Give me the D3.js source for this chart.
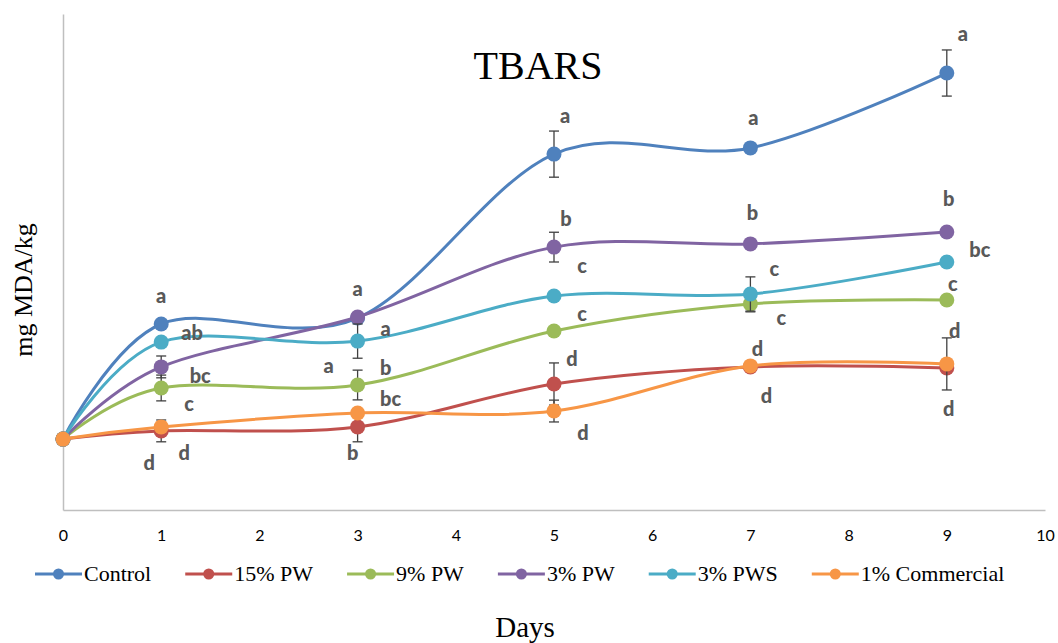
<!DOCTYPE html>
<html><head><meta charset="utf-8">
<script src="https://cdn.jsdelivr.net/npm/d3@7"></script>
<style>body{margin:0;background:#fff}svg{display:block}</style>
</head><body>
<svg id="c" width="1058" height="643"></svg>
<script>
// ---- data ----
const days = [0, 1, 3, 5, 7, 9];
const xTicks = [0,1,2,3,4,5,6,7,8,9,10];
const seriesNames = ["Control", "15% PW", "9% PW", "3% PW", "3% PWS", "1% Commercial"];
const seriesColors = ["#4F81BD", "#C0504D", "#9BBB59", "#8064A2", "#4BACC6", "#F79646"];
const control   = [0.286, 0.750, 0.774, 1.435, 1.460, 1.762];
const pw15      = [0.286, 0.319, 0.335, 0.508, 0.577, 0.573];
const pw9       = [0.286, 0.492, 0.504, 0.722, 0.831, 0.847];
const pw3       = [0.286, 0.577, 0.778, 1.060, 1.073, 1.121];
const pws3      = [0.286, 0.677, 0.681, 0.863, 0.871, 1.000];
const commercial= [0.286, 0.335, 0.391, 0.399, 0.581, 0.589];
const errControl   = [0, 0, 0, 0.093, 0, 0.093];
const errPw15      = [0, 0.044, 0.060, 0.085, 0, 0];
const errPw9       = [0, 0.052, 0.060, 0, 0.032, 0];
const errPw3       = [0, 0.044, 0, 0.060, 0, 0];
const errPws3      = [0, 0, 0.069, 0, 0.069, 0];
const errCommercial= [0, 0, 0, 0.044, 0, 0.105];
const values = [control, pw15, pw9, pw3, pws3, commercial];
const errors = [errControl, errPw15, errPw9, errPw3, errPws3, errCommercial];
// significance letters: [seriesIndex, dayIndex, text]
const letters = [
  [0,1,"a"],[4,1,"ab"],[3,1,"bc"],[2,1,"c"],[1,1,"d"],[5,1,"d"],
  [0,2,"a"],[4,2,"a"],[3,2,"a"],[2,2,"b"],[5,2,"bc"],[1,2,"b"],
  [0,3,"a"],[3,3,"b"],[4,3,"c"],[2,3,"c"],[1,3,"d"],[5,3,"d"],
  [0,4,"a"],[3,4,"b"],[4,4,"c"],[2,4,"c"],[5,4,"d"],[1,4,"d"],
  [0,5,"a"],[3,5,"b"],[4,5,"bc"],[2,5,"c"],[5,5,"d"],[1,5,"d"]
];
// label offsets (px) relative to the point, same order as letters
const letterOffsets = [
  [0,-29],[31,-10],[39,8],[28,15],[-12,31],[23,25],
  [0,-30],[28,-13],[-29,48],[28,-18],[33,-15],[-5,25],
  [11,-39],[12,-29],[28,-31],[28,-18],[18,-26],[29,21],
  [3,-31],[2,-32],[24,-26],[31,13],[7,-18],[16,28],
  [16,-40],[2,-34],[33,-13],[6,-17],[8,-34],[2,40]
];

// ---- layout ----
const svg = d3.select("#c");
const x = d3.scaleLinear().domain([0, 10]).range([63, 1045]);
const y = d3.scaleLinear().domain([0, 2]).range([510, 14]);

// axes
const gx = svg.append("g").attr("transform", "translate(0,510)")
  .call(d3.axisBottom(x).tickValues(xTicks).tickSize(0).tickPadding(20).tickFormat(d3.format("d")));
gx.select(".domain").attr("stroke", "#BFBFBF").attr("stroke-width", 1.5);
gx.selectAll("text").attr("font-family", "Lato, 'Open Sans', sans-serif").attr("font-size", 16).attr("fill", "#000");

const gy = svg.append("g").attr("transform", "translate(63,0)")
  .call(d3.axisLeft(y).tickValues([]).tickSize(0));
gy.select(".domain").attr("stroke", "#BFBFBF").attr("stroke-width", 1.5);

// title & axis titles
svg.append("text").attr("x", 538).attr("y", 79).attr("text-anchor", "middle")
  .attr("font-family", "'Liberation Serif', serif").attr("font-size", 40).text("TBARS");
svg.append("text").attr("x", 525).attr("y", 637).attr("text-anchor", "middle")
  .attr("font-family", "'Liberation Serif', serif").attr("font-size", 29).text("Days");
svg.append("text").attr("transform", "translate(32,290) rotate(-90)").attr("text-anchor", "middle")
  .attr("font-family", "'Liberation Serif', serif").attr("font-size", 26).text("mg MDA/kg");

// lines
const line = d3.line().x((d, i) => x(days[i])).y(d => y(d)).curve(d3.curveCardinal.tension(0));
const plot = svg.append("g");
values.forEach((vals, s) => {
  const g = plot.append("g");
  g.append("path").attr("d", line(vals)).attr("fill", "none")
    .attr("stroke", seriesColors[s]).attr("stroke-width", 3);
  // error bars
  errors[s].forEach((e, i) => {
    if (!e) return;
    const cx = x(days[i]);
    const y1 = y(vals[i] + e), y2 = y(vals[i] - e);
    g.append("line").attr("x1", cx).attr("x2", cx).attr("y1", y1).attr("y2", y2).attr("stroke", "#404040").attr("stroke-width", 1.3);
    [y1, y2].forEach(yy => g.append("line").attr("x1", cx - 5).attr("x2", cx + 5).attr("y1", yy).attr("y2", yy).attr("stroke", "#404040").attr("stroke-width", 1.3));
  });
  g.selectAll("circle").data(vals).enter().append("circle")
    .attr("cx", (d, i) => x(days[i])).attr("cy", d => y(d)).attr("r", 7.5)
    .attr("fill", seriesColors[s]);
});

// letters
svg.append("g").selectAll("text").data(letters).enter().append("text")
  .attr("x", (d, k) => x(days[d[1]]) + letterOffsets[k][0])
  .attr("y", (d, k) => y(values[d[0]][d[1]]) + letterOffsets[k][1])
  .attr("text-anchor", "middle").attr("dominant-baseline", "central")
  .attr("font-family", "Lato, sans-serif").attr("font-weight", 900).attr("font-size", 20)
  .attr("fill", "#595959").text(d => d[2]);

// legend
const leg = svg.append("g").attr("transform", "translate(0,574)");
let lx = 35;
seriesNames.forEach((name, s) => {
  const g = leg.append("g").attr("transform", `translate(${lx},0)`);
  g.append("line").attr("x1", 0).attr("x2", 47).attr("stroke", seriesColors[s]).attr("stroke-width", 3);
  g.append("circle").attr("cx", 23.5).attr("r", 5.5).attr("fill", seriesColors[s]);
  const t = g.append("text").attr("x", 49).attr("y", 7).attr("font-family", "'Liberation Serif', serif")
    .attr("font-size", 22).text(name);
  lx += 49 + t.node().getComputedTextLength() + 34;
});
</script>
</body></html>
